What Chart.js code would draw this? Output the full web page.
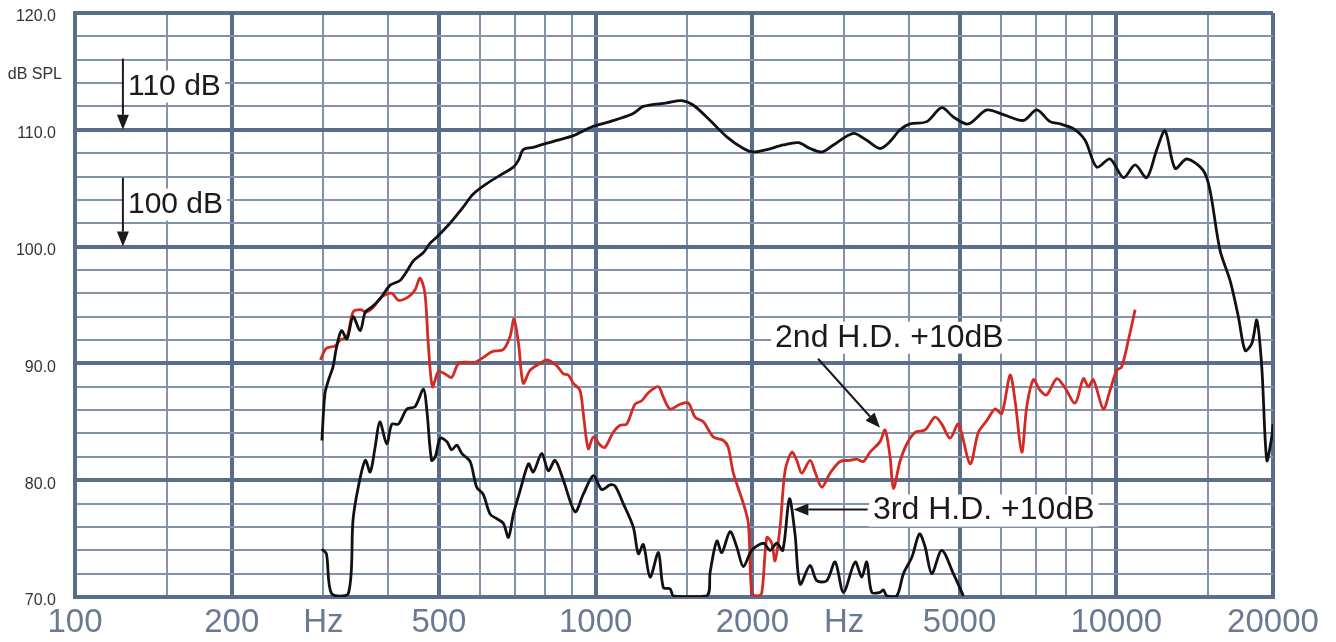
<!DOCTYPE html>
<html>
<head>
<meta charset="utf-8">
<title>SPL / H.D.</title>
<script src="https://cdn.jsdelivr.net/npm/chart.js@4"></script>
<style>
    body { margin: 0; background: #fff; }
    #wrap { width: 1336px; height: 642px; }
</style>
</head>
<body>
<div id="wrap"><canvas id="splChart" width="1336" height="642"></canvas></div>
<script>
    // main response (dB SPL)
    const splFreq = [298,302,307,313,318,325,333,342,353,361,371,385,403,421,434,447,467,481,495,525,557,582,618,655,695,711,726,759,842,906,990,1066,1181,1235,1370,1463,1541,1659,1786,1922,2009,2132,2294,2451,2581,2719,2862,3126,3317,3518,3677,3842,4017,4325,4621,4865,5197,5640,6069,6632,7036,7461,7800,8272,8712,9173,9729,10320,10870,11440,11960,12410,12970,13660,14700,15140,15820,16540,17160,17680,18210,18620,19030,19460,19890,20000];
    const splDb = [83.4,87.4,88.6,89.7,91.4,92.8,92.1,94.0,92.8,94.4,94.8,95.5,96.7,97.1,97.9,98.8,99.5,100.3,100.8,102.0,103.4,104.5,105.4,106.1,106.8,107.4,108.3,108.5,109.1,109.5,110.3,110.7,111.4,112.0,112.3,112.5,112.1,110.8,109.4,108.4,108.1,108.3,108.7,108.9,108.4,108.1,108.7,109.7,109.1,108.4,109.0,110.0,110.5,110.7,111.9,111.1,110.5,111.7,111.3,110.8,111.7,110.7,110.5,110.1,109.1,106.8,107.5,105.9,107.0,105.9,108.3,109.9,106.7,107.5,106.5,104.8,99.7,97.1,94.0,91.1,91.7,93.7,89.7,81.7,83.7,84.8];

    // 2nd harmonic distortion +10dB
    const hd2Freq = [296,304,316,323,333,342,353,363,374,388,406,418,437,450,460,470,477,486,499,514,529,545,565,587,608,632,665,685,697,711,726,748,782,806,842,867,886,906,933,947,968,990,1020,1042,1081,1114,1147,1190,1226,1263,1320,1349,1390,1453,1507,1552,1610,1683,1760,1798,1839,1922,1965,1995,2039,2084,2132,2179,2211,2261,2311,2381,2434,2488,2581,2639,2719,2820,2948,3081,3173,3268,3366,3518,3597,3677,3732,3842,3959,4107,4293,4487,4621,4796,4975,5239,5434,5640,5850,6027,6252,6392,6584,6731,6932,7140,7353,7686,7974,8335,8647,8841,9036,9445,9729,10020,10240,10550,10870];
    const hd2Db = [90.3,91.3,91.5,92.0,92.3,94.4,94.6,94.4,94.8,95.7,96.0,95.4,95.7,96.3,97.3,96.0,91.7,88.0,89.3,89.1,88.8,90.0,90.1,90.1,90.5,91.0,91.2,92.3,93.8,91.7,88.3,89.4,90.0,90.3,89.8,89.1,89.0,88.3,87.7,85.7,82.7,83.7,83.0,82.8,84.1,84.7,84.8,86.5,86.8,87.5,88.0,87.1,86.1,86.5,86.6,85.4,85.0,83.7,83.4,82.8,80.6,78.0,76.3,70.3,70.1,70.3,75.1,74.6,73.1,76.0,80.8,82.4,81.7,80.6,81.7,80.7,79.4,80.6,81.6,81.7,81.8,81.6,82.4,83.3,84.3,82.0,79.3,81.6,83.1,84.1,84.3,85.4,84.8,83.6,84.8,81.4,84.1,85.1,86.1,85.7,89.0,86.8,82.4,86.3,88.6,87.7,87.3,88.7,87.9,86.6,88.7,88.0,88.6,86.1,87.7,89.4,89.7,92.0,94.6];

    // 3rd harmonic distortion +10dB
    const hd3Freq = [298,304,311,335,342,350,361,369,377,385,397,406,418,434,450,467,474,484,492,503,518,529,541,553,574,591,608,627,646,665,680,695,716,743,759,788,811,836,867,913,947,990,1027,1066,1090,1130,1181,1208,1235,1272,1320,1349,1390,1411,1635,1659,1709,1747,1812,1866,1922,1995,2100,2163,2228,2288,2356,2415,2470,2581,2659,2779,2884,2992,3150,3244,3317,3391,3518,3570,3624,3788,3901,4049,4188,4293,4422,4621,4865,5086];
    const hd3Db = [74.1,73.7,70.3,70.3,76.6,79.4,81.7,80.7,82.8,85.0,83.1,84.8,84.8,86.1,86.3,87.8,86.0,81.7,82.0,83.6,83.3,82.6,83.0,82.3,81.6,79.4,78.8,77.1,76.7,76.3,75.1,77.1,79.1,81.4,80.7,82.3,80.8,81.7,80.0,77.3,78.8,80.4,79.2,79.6,79.5,78.0,76.0,73.7,74.5,71.7,73.8,70.8,70.7,70.1,70.1,72.1,74.8,73.8,75.6,74.3,72.6,74.0,74.6,74.0,74.6,74.0,78.4,75.4,71.1,72.7,71.4,71.4,73.0,70.4,73.0,71.7,73.0,70.4,70.4,70.6,70.1,70.1,72.0,73.4,75.4,74.3,72.0,74.0,72.0,70.1];

    // grid and tick labels
    const gridFreqs = [100,150,200,300,400,500,600,700,800,900,1000,1500,2000,3000,4000,5000,6000,7000,8000,9000,10000,15000,20000];
    const majorFreqs = [100,200,500,1000,2000,5000,10000,20000];
    const xLabelFreqs = [100,200,300,500,1000,2000,3000,5000,10000,20000];
    const xLabelTexts = ['100','200','Hz','500','1000','2000','Hz','5000','10000','20000'];

    const MAJOR = '#5a6d8b', MINOR = '#8593aa';
    const toPts = (fs, ds) => fs.map((f, i) => ({x: f, y: ds[i]}));

    function arrow(ctx, x1, y1, x2, y2) {
        const a = Math.atan2(y2 - y1, x2 - x1), L = 15, W = 6;
        const bx = x2 - L * Math.cos(a), by = y2 - L * Math.sin(a);
        ctx.beginPath(); ctx.moveTo(x1, y1); ctx.lineTo(bx, by); ctx.stroke();
        ctx.beginPath();
        ctx.moveTo(x2, y2);
        ctx.lineTo(bx + W * Math.sin(a), by - W * Math.cos(a));
        ctx.lineTo(bx - W * Math.sin(a), by + W * Math.cos(a));
        ctx.closePath(); ctx.fill();
    }

    function boxedText(ctx, txt, x, y) {
        const w = ctx.measureText(txt).width;
        ctx.fillStyle = '#fff';
        ctx.fillRect(x - 4, y - 16, w + 8, 32);
        ctx.fillStyle = '#1a1a1a';
        ctx.fillText(txt, x, y);
    }

    const notes = {
        id: 'notes',
        afterDraw(chart) {
            const {ctx, scales: {x, y}} = chart;
            const px = f => x.getPixelForValue(f), py = v => y.getPixelForValue(v);
            ctx.save();
            ctx.fillStyle = '#333';
            ctx.font = '16px "Liberation Sans", sans-serif';
            ctx.textAlign = 'right';
            ctx.textBaseline = 'middle';
            ctx.fillText('dB SPL', 62, py(114.7));

            ctx.textAlign = 'left';
            ctx.strokeStyle = '#1a1a1a';
            ctx.fillStyle = '#1a1a1a';
            ctx.lineWidth = 2;
            ctx.font = '30px "Liberation Sans", Arial, sans-serif';
            const ax = px(123.6);
            arrow(ctx, ax, py(116.1), ax, py(110));
            arrow(ctx, ax, py(105.9), ax, py(100));
            boxedText(ctx, '110 dB', px(126.4), py(113.7));
            boxedText(ctx, '100 dB', px(126.4), py(103.6));

            ctx.font = '32px "Liberation Sans", Arial, sans-serif';
            ctx.fillStyle = '#1a1a1a';
            arrow(ctx, px(2674), py(90.4), px(3518), py(84.5));
            arrow(ctx, px(3330), py(77.5), px(2398), py(77.5));
            boxedText(ctx, '2nd H.D. +10dB', px(2211), py(92.2));
            boxedText(ctx, '3rd H.D. +10dB', px(3411), py(77.4));
            ctx.restore();
        }
    };

    const chart = new Chart(document.getElementById('splChart'), {
        type: 'line',
        data: {
            datasets: [
                { label: 'SPL', data: toPts(splFreq, splDb), borderColor: '#111', borderWidth: 2.8 },
                { label: '3rd H.D.', data: toPts(hd3Freq, hd3Db), borderColor: '#111', borderWidth: 2.8 },
                { label: '2nd H.D.', data: toPts(hd2Freq, hd2Db), borderColor: '#d42a24', borderWidth: 2.8 }
            ]
        },
        options: {
            responsive: false,
            animation: false,
            events: [],
            elements: { point: { radius: 0 }, line: { tension: 0.3, fill: false } },
            layout: { padding: { top: 13, right: 63, left: 0, bottom: 0 } },
            plugins: { legend: { display: false }, tooltip: { enabled: false } },
            scales: {
                x: {
                    type: 'logarithmic',
                    min: 100,
                    max: 20000,
                    afterBuildTicks: s => { s.ticks = gridFreqs.map(v => ({value: v})); },
                    afterFit: s => { s.height = 45; s.paddingLeft = 0; s.paddingRight = 0; },
                    grid: {
                        drawTicks: false,
                        lineWidth: c => majorFreqs.includes(c.tick && c.tick.value) ? 4 : 2,
                        color: c => majorFreqs.includes(c.tick && c.tick.value) ? MAJOR : MINOR
                    },
                    border: { width: 4, color: MAJOR },
                    ticks: {
                        autoSkip: false,
                        maxRotation: 0,
                        padding: 6,
                        color: '#6b7a93',
                        font: { family: '"Liberation Sans", Arial, sans-serif', size: 33 },
                        callback: v => {
                            const i = xLabelFreqs.indexOf(v);
                            return i < 0 ? '' : xLabelTexts[i];
                        }
                    }
                },
                y: {
                    min: 70,
                    max: 120,
                    afterFit: s => { s.width = 75; s.paddingTop = 0; s.paddingBottom = 0; },
                    grid: {
                        drawTicks: false,
                        lineWidth: c => c.tick && c.tick.value % 10 === 0 ? 4 : 2,
                        color: c => c.tick && c.tick.value % 10 === 0 ? MAJOR : MINOR
                    },
                    border: { width: 4, color: MAJOR },
                    ticks: {
                        stepSize: 2,
                        autoSkip: false,
                        padding: 19,
                        labelOffset: 4,
                        color: '#333',
                        font: { family: '"Liberation Sans", sans-serif', size: 16 },
                        callback: v => v % 10 === 0 ? v.toFixed(1) : ''
                    }
                }
            }
        },
        plugins: [notes]
    });
</script>
</body>
</html>
